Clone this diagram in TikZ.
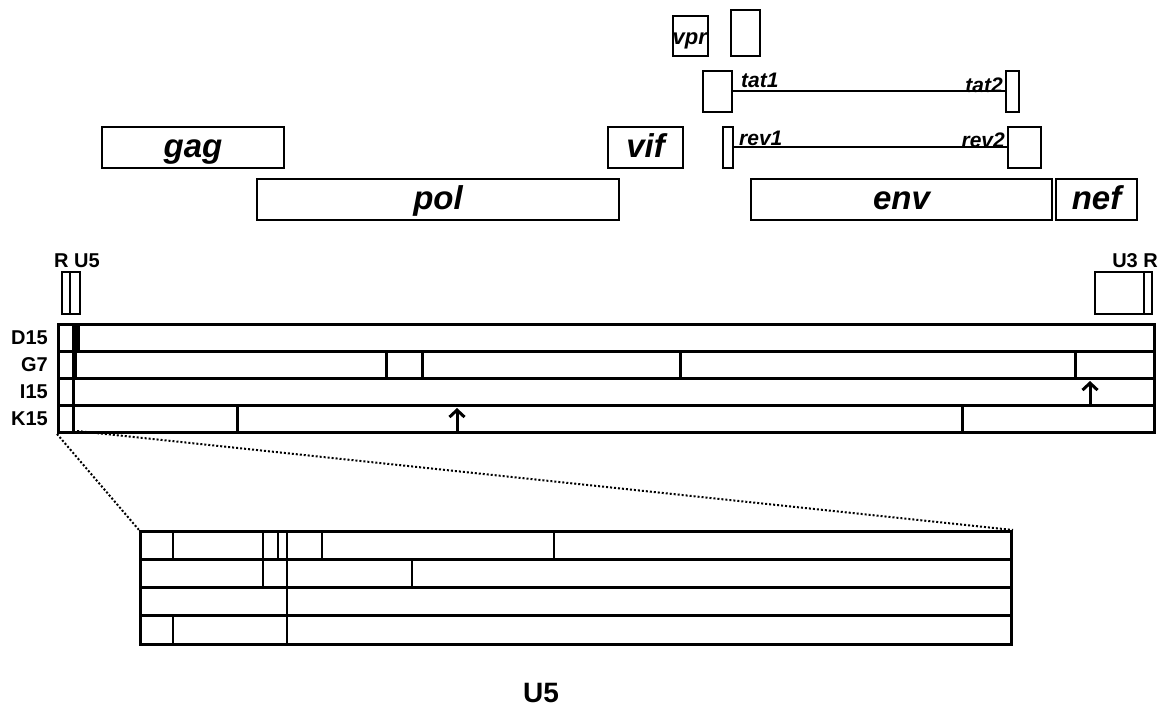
\documentclass[tikz,border=0pt]{standalone}
\usepackage{fontspec}
\setmainfont{Liberation Sans}
\usetikzlibrary{arrows.meta}
\begin{document}
\begin{tikzpicture}[x=1pt,y=-1pt,
  gbox/.style={draw,line width=2pt,inner sep=0pt,anchor=north west},
  glab/.style={font=\fontsize{33}{36}\selectfont\bfseries\itshape,text height=25pt,text depth=5pt},
  slab/.style={font=\fontsize{21}{24}\selectfont\bfseries\itshape,inner sep=0pt},
  rlab/.style={font=\fontsize{20}{24}\selectfont\bfseries,inner sep=0pt},
  rowbox/.style={draw,line width=3pt,inner sep=0pt,anchor=north west},
  div/.style={line width=3pt},
  ldiv/.style={line width=2.5pt},
  arr/.style={line width=3pt,-{Straight Barb[length=7pt,width=15pt,line width=3pt]}},
  dots/.style={line width=2pt,dash pattern=on 2pt off 2pt}
]
\useasboundingbox (0,0) rectangle (1166,711);

% ---- genes ----
\node[gbox,glab,minimum width=182pt,minimum height=41pt] (gag) at (101,126) {gag};
\node[gbox,glab,minimum width=75pt,minimum height=41pt] (vif) at (607,126) {vif};
\node[gbox,glab,minimum width=362pt,minimum height=41pt] (pol) at (256,178) {pol};
\node[gbox,glab,minimum width=301pt,minimum height=41pt] (env) at (750,178) {env};
\node[gbox,glab,minimum width=81pt,minimum height=41pt] (nef) at (1055,178) {nef};

\node[gbox,minimum width=35pt,minimum height=40pt] (vpr) at (672,15) {};
\node[slab,font=\fontsize{22}{24}\selectfont\bfseries\itshape,anchor=base west] (vprlab) at (672.5,44.5) {vpr};
\node[gbox,minimum width=29pt,minimum height=46pt] (vpu) at (730,9) {};

\node[gbox,minimum width=29pt,minimum height=41pt] (tat1) at (702,70) {};
\node[gbox,minimum width=13pt,minimum height=41pt] (tat2) at (1005,70) {};
\draw[line width=2pt] (tat1.east) -- (tat2.west);
\node[slab,anchor=base west] (tat1lab) at (741,88) {tat1};
\node[slab,anchor=base east] (tat2lab) at (1003,93) {tat2};

\node[gbox,minimum width=10pt,minimum height=41pt] (rev1) at (722,126) {};
\node[gbox,minimum width=33pt,minimum height=41pt] (rev2) at (1007,126) {};
\draw[line width=2pt] (rev1.east) -- (rev2.west);
\node[slab,anchor=base west] (rev1lab) at (739,146) {rev1};
\node[slab,anchor=base east] (rev2lab) at (1005,148) {rev2};

% ---- LTR ----
\node[rlab,anchor=base west] (ltr5lab) at (54,267) {R U5};
\node[gbox,minimum width=8pt,minimum height=42pt] (R5) at (61,271) {};
\node[gbox,minimum width=10pt,minimum height=42pt] (U5) at (69,271) {};
\node[rlab,anchor=base east] (ltr3lab) at (1158,267) {U3 R};
\node[gbox,minimum width=49pt,minimum height=42pt] (U3) at (1094,271) {};
\node[gbox,minimum width=8pt,minimum height=42pt] (R3) at (1143,271) {};

% ---- clone rows ----
\node[rowbox,minimum width=1096pt,minimum height=27pt] (D15) at (57,323) {};
\node[rowbox,minimum width=1096pt,minimum height=27pt] (G7) at (57,350) {};
\node[rowbox,minimum width=1096pt,minimum height=27pt] (I15) at (57,377) {};
\node[rowbox,minimum width=1096pt,minimum height=27pt] (K15) at (57,404) {};
\node[rlab,anchor=east] (lD15) at ([xshift=-9pt]D15.west) {D15};
\node[rlab,anchor=east] (lG7) at ([xshift=-9pt]G7.west) {G7};
\node[rlab,anchor=east] (lI15) at ([xshift=-9pt]I15.west) {I15};
\node[rlab,anchor=east] (lK15) at ([xshift=-9pt]K15.west) {K15};

\fill (72,323) rectangle (80,350);
\fill (72,350) rectangle (77,377);
\fill (71.8,377) rectangle (74.6,404);
\fill (71.8,404) rectangle (74.6,431);

\draw[div] (386,350) -- (386,380);
\draw[div] (422,350) -- (422,377);
\draw[div] (680,350) -- (680,377);
\draw[div] (1075,350) -- (1075,377);
\draw[div] (237,404) -- (237,431);
\draw[div] (962,404) -- (962,431);

\coordinate (a1s) at (1090,404);
\coordinate (a1e) at (1090,381);
\draw[arr] (a1s) -- (a1e);
\coordinate (a2s) at (457,431);
\coordinate (a2e) at (457,408);
\draw[arr] (a2s) -- (a2e);

% ---- expanded U5 region ----
\node[rowbox,minimum width=871pt,minimum height=28pt] (L1) at (139,530) {};
\node[rowbox,minimum width=871pt,minimum height=28pt] (L2) at (139,558) {};
\node[rowbox,minimum width=871pt,minimum height=28pt] (L3) at (139,586) {};
\node[rowbox,minimum width=871pt,minimum height=29pt] (L4) at (139,614) {};

\draw[ldiv] (173,530) -- (173,558);
\draw[ldiv] (263,530) -- (263,558);
\draw[ldiv] (278,530) -- (278,558);
\draw[ldiv] (287,530) -- (287,558);
\draw[ldiv] (322,530) -- (322,558);
\draw[ldiv] (554,530) -- (554,558);
\draw[ldiv] (263,558) -- (263,586);
\draw[ldiv] (287,558) -- (287,586);
\draw[ldiv] (412,558) -- (412,586);
\draw[ldiv] (287,586) -- (287,614);
\draw[ldiv] (173,614) -- (173,643);
\draw[ldiv] (287,614) -- (287,643);

\coordinate (zs2) at (77,431);
\draw[dots] (K15.south west) -- (L1.north west);
\draw[dots] (zs2) -- (L1.north east);

\node[font=\fontsize{28}{32}\selectfont\bfseries,inner sep=0pt] (u5lab) at (541,693) {U5};
\end{tikzpicture}
\end{document}
